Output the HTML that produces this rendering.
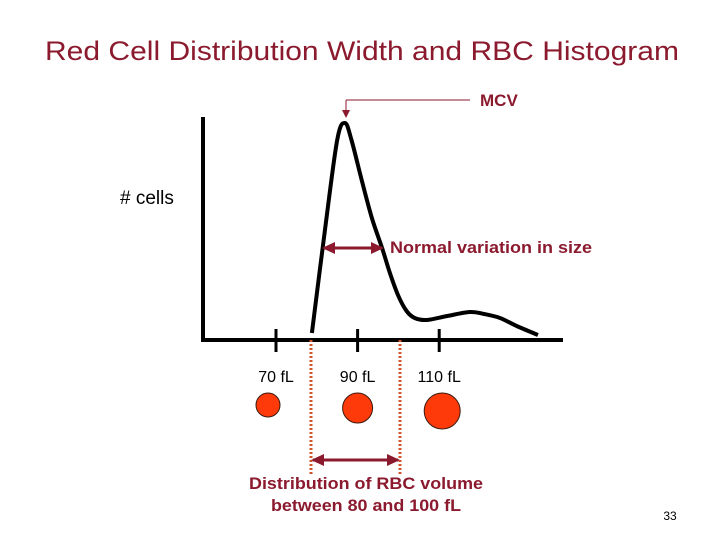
<!DOCTYPE html>
<html><head><meta charset="utf-8"><style>
body{margin:0;background:#fff;}
svg{display:block;font-family:"Liberation Sans",Arial,sans-serif;}
</style></head><body>
<svg width="720" height="540" viewBox="0 0 720 540">
<defs>
<marker id="ah" markerWidth="8" markerHeight="8" refX="6" refY="4" orient="auto" markerUnits="userSpaceOnUse"><path d="M0,0 L8,4 L0,8 z" fill="#8b1a2e"/></marker>
<marker id="ah2" markerWidth="14" markerHeight="14" refX="11" refY="7" orient="auto-start-reverse" markerUnits="userSpaceOnUse"><path d="M0,1 L13,7 L0,13 z" fill="#8b1a2e"/></marker>
</defs>
<text x="362" y="60" text-anchor="middle" font-size="27" textLength="634" lengthAdjust="spacingAndGlyphs" fill="#8b1a2e">Red Cell Distribution Width and RBC Histogram</text>
<g id="chart"></g>
<text x="120" y="204" font-size="19" fill="#000"># cells</text>
<line x1="470" y1="100" x2="346" y2="100" stroke="#8b1a2e" stroke-width="1"/>
<line x1="346" y1="100" x2="346" y2="116" stroke="#8b1a2e" stroke-width="1" marker-end="url(#ah)"/>
<text x="480" y="106" font-size="17" font-weight="bold" fill="#8b1a2e">MCV</text>
<line x1="324" y1="248" x2="382" y2="248" stroke="#8b1a2e" stroke-width="3" marker-start="url(#ah2)" marker-end="url(#ah2)"/>
<text x="390" y="253" font-size="17" font-weight="bold" textLength="202" lengthAdjust="spacingAndGlyphs" fill="#8b1a2e">Normal variation in size</text>
<line x1="311" y1="340" x2="311" y2="474" stroke="#d2542a" stroke-width="3" stroke-dasharray="2,2"/>
<line x1="400" y1="340" x2="400" y2="474" stroke="#d2542a" stroke-width="3" stroke-dasharray="2,2"/>
<line x1="313" y1="460" x2="398" y2="460" stroke="#8b1a2e" stroke-width="3" marker-start="url(#ah2)" marker-end="url(#ah2)"/>
<text x="366" y="489" text-anchor="middle" font-size="17" font-weight="bold" textLength="234" lengthAdjust="spacingAndGlyphs" fill="#8b1a2e">Distribution of RBC volume</text>
<text x="366" y="511" text-anchor="middle" font-size="17" font-weight="bold" textLength="190" lengthAdjust="spacingAndGlyphs" fill="#8b1a2e">between 80 and 100 fL</text>
<text x="670" y="520" text-anchor="middle" font-size="12" fill="#000">33</text>
</svg>
<script>
const tickValues=[70,90,110];
const tickLabels=["70 fL","90 fL","110 fL"];
const cellSizes=[70,90,110];
const cellRadii=[12,15,18];
const curveX=[78.8,82,85,86.9,88.5,91,93.5,96,98,100,102,104,107,112,117.5,121,124.9,129,134.2];
const curveY=[7,110,200,217,200,160,122,92,66,44,29,22,20,24,28,26,22,14,5];
const g=document.getElementById('chart');
const NS='http://www.w3.org/2000/svg';
const x0=203,yBase=340;
function xs(v){return 276+(v-70)*4.08;}
function ys(c){return yBase-c;}
function mk(t,a){const e=document.createElementNS(NS,t);for(const k in a)e.setAttribute(k,a[k]);g.appendChild(e);return e;}
let e=mk('line',{x1:x0,y1:117,x2:x0,y2:yBase+2,stroke:'#000','stroke-width':4});


e=mk('line',{x1:x0-2,y1:yBase,x2:563,y2:yBase,stroke:'#000','stroke-width':4});


tickValues.forEach((v,i)=>{
 let t=mk('line',{x1:xs(v),y1:yBase-11,x2:xs(v),y2:yBase+12,stroke:'#000','stroke-width':3});
 
 
 let l=mk('text',{x:xs(v),y:382,'text-anchor':'middle','font-size':16,fill:'#000'});
 l.textContent=tickLabels[i];
 
 
});
cellSizes.forEach((v,i)=>{
 let c=mk('circle',{cx:xs(v)-(i==0?8:i==2?-3:0),cy:393+cellRadii[i],r:cellRadii[i],fill:'#ff3a0a',stroke:'#3a1a10','stroke-width':1});
 
 
});
const pts=curveX.map((v,i)=>[xs(v),ys(curveY[i])]);
let d='M'+pts[0][0]+','+pts[0][1];
for(let i=0;i<pts.length-1;i++){
 const p0=pts[Math.max(0,i-1)],p1=pts[i],p2=pts[i+1],p3=pts[Math.min(pts.length-1,i+2)];
 const t=1/6;
 d+=' C'+(p1[0]+(p2[0]-p0[0])*t)+','+(p1[1]+(p2[1]-p0[1])*t)+' '+(p2[0]-(p3[0]-p1[0])*t)+','+(p2[1]-(p3[1]-p1[1])*t)+' '+p2[0]+','+p2[1];
}
e=mk('path',{d:d,fill:'none',stroke:'#000','stroke-width':4,'stroke-linejoin':'round'});


</script>
</body></html>
